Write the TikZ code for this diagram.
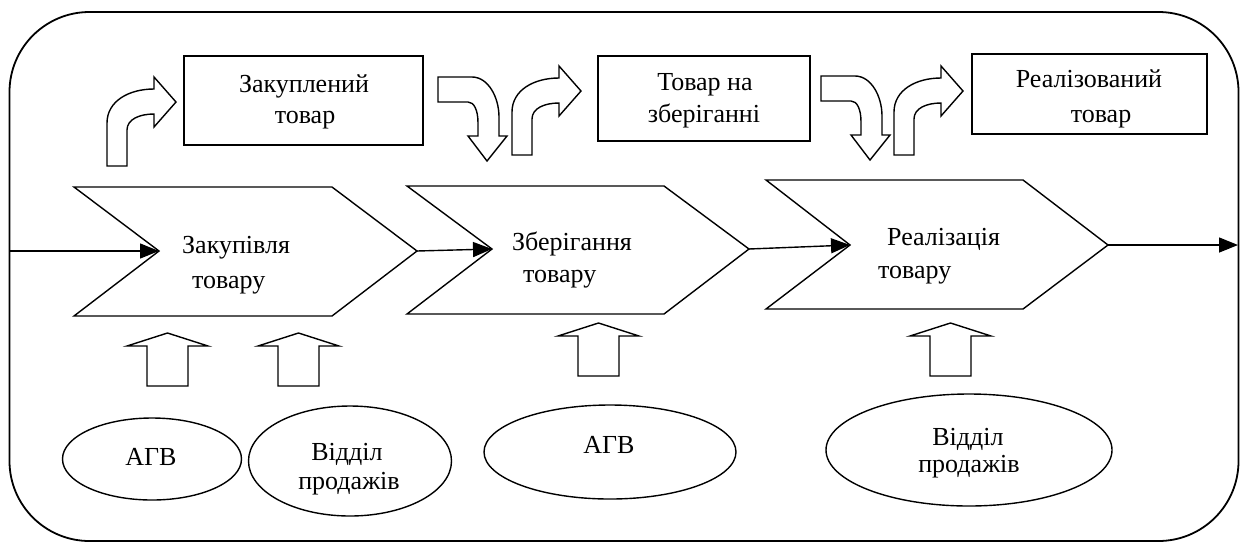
\documentclass[tikz,border=0pt]{standalone}
\usepackage{fontspec}
\setmainfont{Liberation Serif}
\usetikzlibrary{arrows.meta,shapes.geometric}
\begin{document}
\begin{tikzpicture}[x=1pt,y=-1pt,
  outline/.style={draw=black,line width=1.4pt,line join=miter,fill=white},
  lbl/.style={font=\fontsize{26}{30}\selectfont,inner sep=0pt,anchor=base},
  lblw/.style={lbl,anchor=base west},
  box/.style={draw,line width=1.4pt,rectangle,inner sep=0pt},
  oval/.style={draw,line width=1.4pt,ellipse,inner sep=0pt},
  flow/.style={line width=1.4pt,-{Triangle[length=19pt,width=15pt]}},
  bendup/.pic={\path[outline] (0,0) -- (0,-43) .. controls (0,-65) and (22,-77) .. (47,-77)
      -- (47,-89) -- (69,-64) -- (47,-39) -- (47,-52)
      .. controls (33,-52) and (20,-47) .. (20,-36) -- (20,0) -- cycle;},
  benddown/.pic={\path[outline] (0,0) -- (34,0) .. controls (50,0) and (61,20) .. (61,40)
      -- (61,59) -- (69,59) -- (49,84) -- (30,59) -- (40,59) -- (40,46)
      .. controls (40,33) and (36,25) .. (30,25) -- (0,25) -- cycle;},
  blockup/.pic={\path[outline] (0,0) -- (0,-40) -- (-20,-40) -- (20.5,-53) -- (61,-40)
      -- (41,-40) -- (41,0) -- cycle;}
]
\useasboundingbox (0,0) rectangle (1246,542);

% outer frame
\draw[line width=1.8pt,rounded corners=80pt] (9.5,12) rectangle (1238.5,541);

% result boxes
\node[box,minimum width=239pt,minimum height=89pt] (b1) at (303.5,100.5) {};
\node[box,minimum width=212pt,minimum height=85pt] (b2) at (704,98.5) {};
\node[box,minimum width=235pt,minimum height=80pt] (b3) at (1089.5,94) {};
\node[lbl] (b1a) at (304,92) {Закуплений};
\node[lbl] (b1b) at (305,123) {товар};
\node[lbl] (b2a) at (705,90) {Товар на};
\node[lbl] (b2b) at (704,122) {зберіганні};
\node[lbl] (b3a) at (1089,87) {Реалізований};
\node[lbl] (b3b) at (1101,122) {товар};

% bent block arrows between stages and results
\pic (u1) at (107,166) {bendup};
\pic (d1) at (438,77) {benddown};
\pic (u2) at (512,155) {bendup};
\pic (d2) at (821,76) {benddown};
\pic (u3) at (894,155) {bendup};

% process chevrons
\draw[outline] (74,187) -- (332,187) -- (417,251) -- (332,316) -- (74,316) -- (159,251) -- cycle;
\draw[outline] (407,186) -- (664,186) -- (749,249) -- (664,314) -- (407,314) -- (492,249) -- cycle;
\draw[outline] (766,180) -- (1023,180) -- (1108,245) -- (1023,309) -- (766,309) -- (850,245) -- cycle;
\coordinate (c1in) at (159,251);
\coordinate (c1out) at (417,251);
\coordinate (c2in) at (492,249);
\coordinate (c2out) at (749,249);
\coordinate (c3in) at (850,245);
\coordinate (c3out) at (1108,245);
\coordinate (src) at (10,251);
\coordinate (sink) at (1238,245);

\node[lblw] (s1a) at (182,253) {Закупівля};
\node[lblw] (s1b) at (192,288) {товару};
\node[lblw] (s2a) at (512,250) {Зберігання};
\node[lblw] (s2b) at (523,282) {товару};
\node[lblw] (s3a) at (887,245) {Реалізація};
\node[lblw] (s3b) at (878,278) {товару};

% main flow
\draw[flow] (src) -- (c1in);
\draw[flow] (c1out) -- (c2in);
\draw[flow] (c2out) -- (c3in);
\draw[flow] (c3out) -- (sink);

% supporting units
\pic (a1) at (147,386) {blockup};
\pic (a2) at (278,386) {blockup};
\pic (a3) at (578,376) {blockup};
\pic (a4) at (930,376) {blockup};

\node[oval,minimum width=179pt,minimum height=82pt] (e1) at (152,459) {};
\node[oval,minimum width=203pt,minimum height=110pt] (e2) at (350,461) {};
\node[oval,minimum width=252pt,minimum height=94pt] (e3) at (610,452) {};
\node[oval,minimum width=286pt,minimum height=112pt] (e4) at (969,450) {};
\node[lbl] (e1a) at (151,465) {АГВ};
\node[lbl] (e2a) at (347,460) {Відділ};
\node[lbl] (e2b) at (349,489) {продажів};
\node[lbl] (e3a) at (609,453) {АГВ};
\node[lbl] (e4a) at (968,445) {Відділ};
\node[lbl] (e4b) at (969,472) {продажів};
\end{tikzpicture}
\end{document}
